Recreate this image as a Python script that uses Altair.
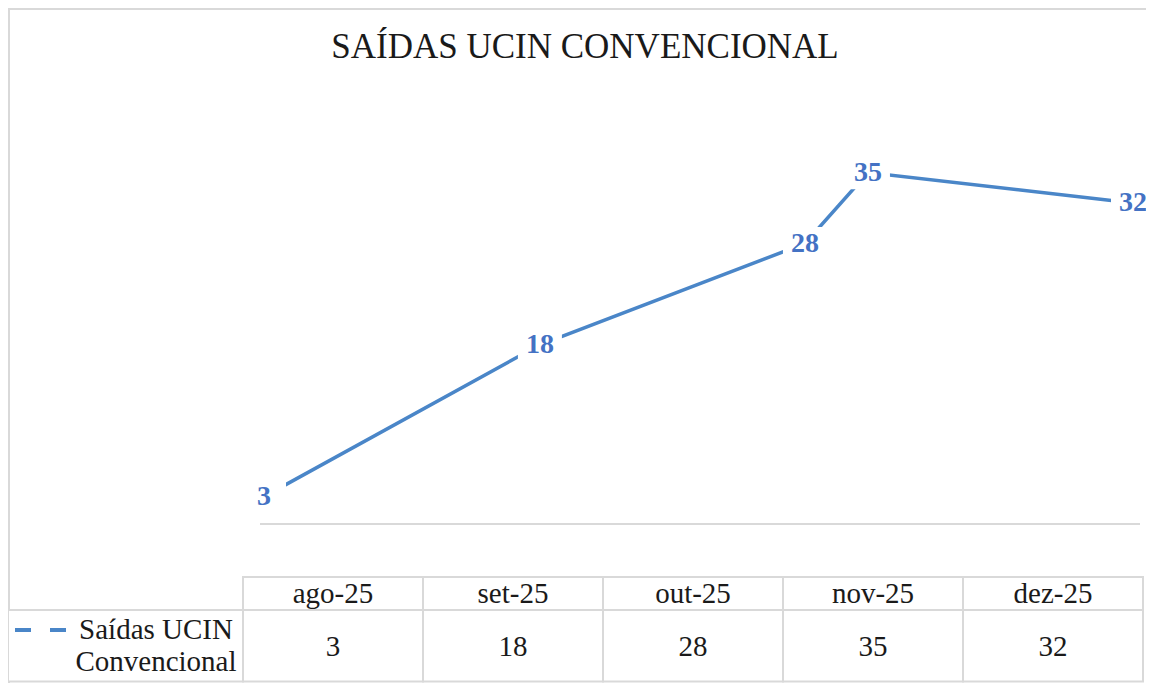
import altair as alt
import pandas as pd

# ---- data ----
months = ["ago-25", "set-25", "out-25", "nov-25", "dez-25"]
values = [3, 18, 28, 35, 32]
# horizontal position of each point along the plot (0 = first, 4 = last)
x_pos = [0.0, 1.27, 2.49, 2.78, 4.0]
title_text = "SAÍDAS UCIN CONVENCIONAL"
series_lines = ["Saídas UCIN", "Convencional"]

df = pd.DataFrame({"month": months, "value": values, "pos": x_pos})

FONT = "'Liberation Serif', 'Times New Roman', serif"
GRID = "#d9d9d9"
LINE = "#4A86C8"
LABEL = "#4472C4"
TEXT = "#1a1a1a"

W, H = 1138, 675

base = alt.Chart(df)

# ---- line chart ----
xq = alt.X("pos:Q", scale=alt.Scale(domain=[0, 4], range=[256, 1125], nice=False, zero=False), axis=None)
yq = alt.Y("value:Q", scale=alt.Scale(domain=[0, 40], range=[519, 114], nice=False, zero=False), axis=None)

line = base.mark_line(color=LINE, strokeWidth=3.5).encode(x=xq, y=yq)
boxes = base.mark_point(
    shape="M-1,-0.75H1V0.75H-1Z", size=1936, filled=True, color="white", opacity=1,
    strokeWidth=0,
).encode(x=xq, y=yq)
labels = base.mark_text(
    font=FONT, fontSize=28, fontWeight="bold", color=LABEL, baseline="middle"
).encode(x=xq, y=yq, text="value:Q")

line_group = alt.layer(line, boxes, labels)

# ---- data table ----
xb = alt.X(
    "month:N", sort=months,
    scale=alt.Scale(range=[235, 1135], paddingInner=0, paddingOuter=0),
    axis=None,
)
header_cells = base.mark_rect(fill="white", stroke=GRID, strokeWidth=2).encode(
    x=xb, y=alt.value(569), y2=alt.value(602)
)
value_cells = base.mark_rect(fill="white", stroke=GRID, strokeWidth=2).encode(
    x=xb, y=alt.value(602), y2=alt.value(673.5)
)
header_text = base.mark_text(font=FONT, fontSize=29, color=TEXT, baseline="middle").encode(
    x=xb, y=alt.value(586), text="month:N"
)
value_text = base.mark_text(font=FONT, fontSize=29, color=TEXT, baseline="middle").encode(
    x=xb, y=alt.value(639), text="value:Q"
)

one = alt.Chart(pd.DataFrame({"k": [0]}))
legend_cell = one.mark_rect(fill="white", stroke=GRID, strokeWidth=2).encode(
    x=alt.value(0), x2=alt.value(235), y=alt.value(602), y2=alt.value(673.5)
)
legend_sym = one.mark_rule(color=LINE, strokeWidth=4, strokeDash=[16, 19]).encode(
    x=alt.value(7), x2=alt.value(62), y=alt.value(622)
)
legend_text = one.mark_text(
    font=FONT, fontSize=29, color=TEXT, align="center", baseline="middle", lineHeight=32
).encode(x=alt.value(148), y=alt.value(622), text=alt.value(series_lines))

table_group = alt.layer(
    header_cells, value_cells, legend_cell, header_text, value_text, legend_sym, legend_text
)

# ---- frame, baseline, title ----
frame_left = one.mark_rule(color=GRID, strokeWidth=2).encode(
    x=alt.value(1), y=alt.value(0), y2=alt.value(H)
)
frame_top = one.mark_rule(color=GRID, strokeWidth=2).encode(
    x=alt.value(0), x2=alt.value(W), y=alt.value(1)
)
baseline_rule = one.mark_rule(color=GRID, strokeWidth=2).encode(
    x=alt.value(252), x2=alt.value(1132), y=alt.value(516)
)
title = alt.Chart(pd.DataFrame({"t": [title_text]})).mark_text(
    font=FONT, fontSize=35, color=TEXT, align="center", baseline="middle"
).encode(x=alt.value(577), y=alt.value(39), text="t:N")

chart = (
    alt.layer(frame_left, frame_top, baseline_rule, title, line_group, table_group)
    .resolve_scale(x="independent", y="independent")
    .properties(width=W, height=H, padding=0, autosize="none")
    .configure_view(stroke="white", strokeWidth=0, strokeOpacity=0)
)

chart.save("out.html", embed_options={"renderer": "svg", "actions": False})
